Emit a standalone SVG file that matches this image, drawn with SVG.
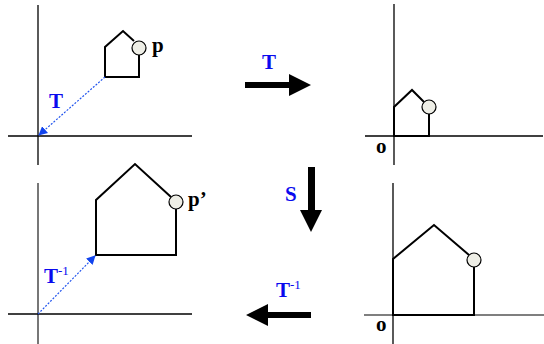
<svg xmlns="http://www.w3.org/2000/svg" width="544" height="344" viewBox="0 0 544 344">
<style>
.ax{stroke:#000;stroke-width:1.3;fill:none}
.axg{stroke:#555;stroke-width:1.6;fill:none}
.house{stroke:#000;stroke-width:2;fill:none;stroke-linejoin:miter}
.pt{fill:#eeeee6;stroke:#000;stroke-width:1.2}
.lbl{font-family:"Liberation Serif","Times New Roman",serif;font-weight:bold;font-size:21px;fill:#000}
.blue{font-family:"Liberation Serif","Times New Roman",serif;font-weight:bold;font-size:21px;fill:#0a0aee}
.sup{font-weight:normal;font-size:13px}
.dot{stroke:#2255ee;stroke-width:1.2;stroke-dasharray:2 1.5;fill:none}
.big{fill:#000}
</style>
<defs>
<marker id="ah" viewBox="0 0 10 10" refX="9" refY="5" markerWidth="9" markerHeight="9" markerUnits="userSpaceOnUse" orient="auto">
<path d="M0,0 L10,5 L0,10 z" fill="#1144ee"/>
</marker>
</defs>

<g id="panel-tl">
<line class="ax" x1="38" y1="5" x2="38" y2="165"/>
<line class="ax" x1="8" y1="136" x2="192" y2="136"/>
<path class="house" d="M139,55 L139,77 L105,77 L105,47 L123,31 L134,41"/>
<circle class="pt" cx="139" cy="48" r="7"/>
<text class="lbl" x="152" y="52">p</text>
</g>

<g id="panel-tr">
<line class="ax" x1="394" y1="4" x2="394" y2="165"/>
<line class="ax" x1="365" y1="136" x2="543" y2="136"/>
<path class="house" d="M429,114 L429,136 L394,136 L394,107 L412,90 L424,102"/>
<circle class="pt" cx="429" cy="107" r="7"/>
<text class="lbl" x="376" y="153">o</text>
</g>

<g id="panel-bl">
<line class="axg" x1="38" y1="183" x2="38" y2="344"/>
<line class="ax" x1="8" y1="314" x2="192" y2="314"/>
<path class="house" d="M176,209 L176,255 L96,255 L96,200 L135,164 L171,197"/>
<circle class="pt" cx="176" cy="202" r="7"/>
<text class="lbl" x="188" y="206">p’</text>
</g>

<g id="panel-br">
<line class="ax" x1="393" y1="183" x2="393" y2="344"/>
<line class="axg" x1="364" y1="315" x2="544" y2="315"/>
<path class="house" d="M474,267 L474,315 L393,315 L393,259 L434,225 L469,255"/>
<circle class="pt" cx="474" cy="260" r="7"/>
<text class="lbl" x="376" y="331">o</text>
</g>

<g id="connectors">
<line class="dot" x1="105" y1="77" x2="39" y2="135" marker-end="url(#ah)"/>
<text class="blue" x="49" y="108">T</text>
<line class="dot" x1="38" y1="314" x2="95" y2="256" marker-end="url(#ah)"/>
<text class="blue" x="44" y="283">T<tspan class="sup" dy="-8">-1</tspan></text>

<path class="big" d="M245,82 L289,82 L289,74 L311,85 L289,96 L289,88 L245,88 z"/>
<text class="blue" x="262" y="69">T</text>
<path class="big" d="M308,167 L315,167 L315,210 L322,210 L311,232 L300,210 L308,210 z"/>
<text class="blue" x="285" y="201">S</text>
<path class="big" d="M311,312 L268,312 L268,304 L246,315 L268,326 L268,318 L311,318 z"/>
<text class="blue" x="276" y="297">T<tspan class="sup" dy="-8">-1</tspan></text>
</g>
</svg>
